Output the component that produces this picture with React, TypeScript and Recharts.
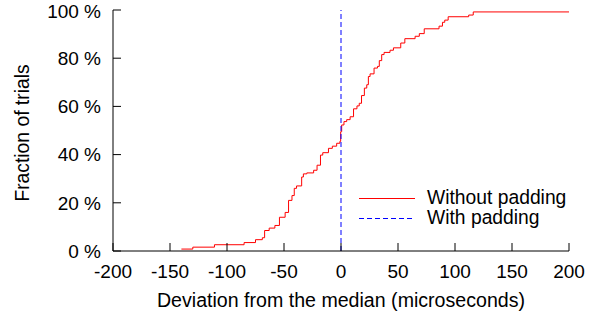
import { Label, Legend, Line, LineChart, XAxis, YAxis } from "recharts";

// step points of the empirical CDF (x in microseconds, y in %)
const stepX = [
  -140, -130, -111, -85, -75, -69, -67, -63, -58, -54, -49, -46, -43, -41, -39, -34.5, -33, -30, -24, -21,
  -18, -16, -11, -7.6, -3.8, -1, -0.3, 0.6, 2.6, 5, 8, 11, 14, 16, 18, 20.5, 22.6, 24, 25.5, 29, 32, 33.6,
  35.7, 37.8, 43, 46, 52.4, 56, 65, 68.7, 73, 86, 89, 91, 94, 112, 116, 200,
];
const stepY = [
  0.8, 1.6, 2.6, 3.5, 4.7, 5.5, 8.5, 9.5, 10.6, 14, 16, 21, 23, 26, 27, 30.7, 32, 32.4, 33.5, 35.6, 39.8,
  40.8, 42.6, 43.5, 44.7, 45.5, 49.5, 52.3, 53.7, 54.5, 55.7, 59, 60.2, 61.3, 64.5, 67.6, 69, 72.4, 73.5,
  75.9, 76.6, 79, 81.5, 82.4, 83.3, 84.3, 86.3, 88.1, 89.1, 90.2, 92.2, 93.3, 94.9, 95.8, 97.2, 97.9, 99.2,
  99.2,
];
const paddingX = [0, 0];
const paddingY = [0, 100];

const xTicks = [-200, -150, -100, -50, 0, 50, 100, 150, 200];
const yTicks = [0, 20, 40, 60, 80, 100];

const withoutPadding = stepX.map((x, i) => ({ x, y: stepY[i] }));
const withPadding = paddingX.map((x, i) => ({ x, y: paddingY[i] }));

const font = "'Liberation Sans', Arial, Helvetica, sans-serif";
const tickStyle = { fontSize: 19, fill: "#000", fontFamily: font };

function LegendBox() {
  const rows = [
    { name: "Without padding", color: "#ff0000", dash: undefined },
    { name: "With padding", color: "#0000ff", dash: "5 3" },
  ];
  return (
    <div style={{ fontFamily: font, fontSize: 19.3, color: "#000" }}>
      {rows.map((r) => (
        <div key={r.name} style={{ display: "flex", alignItems: "center", height: 20, lineHeight: "20px" }}>
          <svg width={56} height={20} style={{ marginRight: 12 }}>
            <line x1={0} x2={56} y1={10.5} y2={10.5} stroke={r.color} strokeWidth={1} strokeDasharray={r.dash} />
          </svg>
          <span style={{ whiteSpace: "nowrap" }}>{r.name}</span>
        </div>
      ))}
    </div>
  );
}

export default function App() {
  return (
    <div style={{ position: "absolute", left: 0, top: 0, background: "#fff" }}>
      <LineChart width={600} height={315} margin={{ top: 10, right: 31, bottom: 0, left: 0 }}>
        <XAxis
          type="number"
          dataKey="x"
          domain={[-200, 200]}
          ticks={xTicks}
          height={64}
          tickSize={-8}
          tickMargin={22}
          stroke="#000"
          tick={tickStyle}
          allowDataOverflow
        >
          <Label
            value="Deviation from the median (microseconds)"
            position="insideBottom"
            offset={8}
            style={{ fontSize: 19.6, fill: "#000", fontFamily: font }}
          />
        </XAxis>
        <YAxis
          type="number"
          dataKey="y"
          domain={[0, 100]}
          ticks={yTicks}
          width={113}
          tickSize={-8}
          tickMargin={20}
          stroke="#000"
          tick={tickStyle}
          tickFormatter={(v) => `${v} %`}
          label={{
            content: () => (
              <text
                x={29}
                y={133}
                transform="rotate(-90 29 133)"
                textAnchor="middle"
                style={{ fontSize: 19.3, fill: "#000", fontFamily: font }}
              >
                Fraction of trials
              </text>
            ),
          }}
        />
        <Legend
          layout="vertical"
          align="center"
          verticalAlign="middle"
          wrapperStyle={{ left: 359, top: 188, width: 240 }}
          content={() => <LegendBox />}
        />
        <Line
          data={withoutPadding}
          dataKey="y"
          name="Without padding"
          type="stepAfter"
          stroke="#ff0000"
          strokeWidth={1}
          dot={false}
          activeDot={false}
          isAnimationActive={false}
        />
        <Line
          data={withPadding}
          dataKey="y"
          name="With padding"
          type="linear"
          stroke="#0000ff"
          strokeWidth={1}
          strokeDasharray="5 3"
          dot={false}
          activeDot={false}
          isAnimationActive={false}
        />
      </LineChart>
    </div>
  );
}
